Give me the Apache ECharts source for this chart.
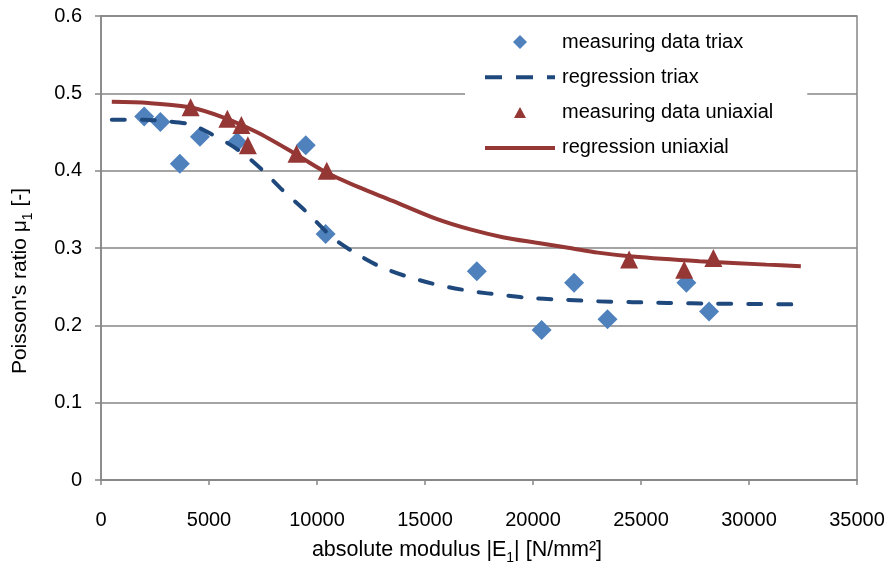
<!DOCTYPE html>
<html>
<head>
<meta charset="utf-8">
<script src="https://cdn.jsdelivr.net/npm/echarts@6/dist/echarts.min.js"></script>
<style>
  html, body { margin: 0; padding: 0; background: #fff; }
  #chart { width: 889px; height: 576px; }
</style>
</head>
<body>
<div id="chart"></div>
<script>
// measured points [E1, mu1]
var triaxData = [
    [2000, 0.470], [2750, 0.463], [3650, 0.409], [4580, 0.444], [6300, 0.437],
    [9480, 0.433], [10400, 0.318], [17400, 0.270], [20400, 0.194], [21900, 0.255],
    [23450, 0.208], [27100, 0.255], [28150, 0.218]
];
var uniaxData = [
    [4150, 0.482], [5850, 0.467], [6500, 0.459], [6800, 0.433], [9050, 0.422],
    [10450, 0.400], [24450, 0.285], [27000, 0.272], [28350, 0.287]
];
// regression curves
var triaxFit = [
    [500, 0.466], [2000, 0.466], [3000, 0.464], [4100, 0.460], [5000, 0.449],
    [6400, 0.426], [7500, 0.400], [8400, 0.375], [9500, 0.347], [10700, 0.314],
    [11800, 0.293], [13000, 0.275], [14300, 0.262], [15800, 0.251], [17200, 0.244],
    [18600, 0.239], [20000, 0.235], [21500, 0.233], [23000, 0.231], [24600, 0.230],
    [26200, 0.229], [28500, 0.228], [30500, 0.2275], [32400, 0.227]
];
var uniaxFit = [
    [500, 0.489], [2200, 0.4875], [4100, 0.482], [5650, 0.469], [7200, 0.450],
    [8740, 0.426], [10280, 0.400], [11900, 0.379], [13500, 0.361],
    [15500, 0.338], [17100, 0.324], [18600, 0.314], [20100, 0.307], [21700, 0.300],
    [23000, 0.294], [24600, 0.289], [27700, 0.283], [30800, 0.2785], [32400, 0.2765]
];
var seriesNames = ['measuring data triax', 'regression triax', 'measuring data uniaxial', 'regression uniaxial'];

var font = "'Liberation Sans', Arial, sans-serif";
var axisGray = '#868686';
var blue = '#4f81bd', darkBlue = '#1f497d', red = '#953735';

// legend icons drawn in a 70x14 box (the lone moves fix the box)
var box = 'M0,0 M70,14 ';
var legendIcons = [
    box + 'M35,0 L42,7 L35,14 L28,7 Z',
    box + 'M0,5 L17,5 L17,9 L0,9 Z M31,5 L48,5 L48,9 L31,9 Z M62,5 L70,5 L70,9 L62,9 Z',
    box + 'M35,1.5 L41,12.5 L29,12.5 Z',
    box + 'M0,5 L70,5 L70,9 L0,9 Z'
];
var legendColors = [blue, darkBlue, red, red];

var myChart = echarts.init(document.getElementById('chart'));
var option = {
    animation: false,
    textStyle: { fontFamily: font },
    grid: {
        left: 101, right: 32, top: 16, bottom: 96,
        show: true, borderColor: axisGray, borderWidth: 1.5
    },
    legend: {
        orient: 'vertical',
        left: 465, top: 24,
        padding: [8, 34, 8, 20],
        backgroundColor: '#fff',
        itemWidth: 70, itemHeight: 14, itemGap: 15.3,
        data: seriesNames.map(function (n, i) {
            return {
                name: n, icon: 'path://' + legendIcons[i],
                itemStyle: { color: legendColors[i], borderWidth: 0, opacity: 1 }
            };
        }),
        textStyle: { fontFamily: font, fontSize: 20, color: '#000', padding: [0, 0, 0, 2] }
    },
    xAxis: {
        type: 'value', min: 0, max: 35000, interval: 5000,
        axisLine: { show: true, lineStyle: { color: axisGray, width: 1.5 } },
        axisTick: { show: true, length: 5, lineStyle: { color: axisGray, width: 1.5 } },
        axisLabel: {
            color: '#000', fontSize: 20, margin: 30, fontFamily: font,
            formatter: function (v) { return String(v); }
        },
        splitLine: { show: false }
    },
    yAxis: {
        type: 'value', min: 0, max: 0.6, interval: 0.1,
        axisLine: { show: true, lineStyle: { color: axisGray, width: 1.5 } },
        axisTick: { show: true, length: 6, lineStyle: { color: axisGray, width: 1.5 } },
        axisLabel: { color: '#000', fontSize: 20, margin: 19, fontFamily: font },
        splitLine: { show: true, lineStyle: { color: axisGray, width: 1.5 } }
    },
    graphic: [
        {
            type: 'text', x: 20, y: 281, rotation: Math.PI / 2,
            style: {
                text: "{a|Poisson's ratio μ}{s|1}{a| [-]}",
                align: 'center', verticalAlign: 'middle', fill: '#000',
                rich: {
                    a: { fontFamily: font, fontSize: 21, lineHeight: 30, fill: '#000' },
                    s: { fontFamily: font, fontSize: 14, lineHeight: 30, verticalAlign: 'bottom', fill: '#000' }
                }
            }
        },
        {
            type: 'text', x: 457, y: 550,
            style: {
                text: '{a|absolute modulus |E}{s|1}{a|| [N/mm²]}',
                align: 'center', verticalAlign: 'middle', fill: '#000',
                rich: {
                    a: { fontFamily: font, fontSize: 21.5, lineHeight: 30, fill: '#000' },
                    s: { fontFamily: font, fontSize: 14, lineHeight: 30, verticalAlign: 'bottom', fill: '#000' }
                }
            }
        }
    ],
    series: [
        {
            name: seriesNames[0], type: 'scatter', symbol: 'diamond', symbolSize: 20,
            itemStyle: { color: blue, opacity: 1 }, data: triaxData, z: 3
        },
        {
            name: seriesNames[1], type: 'line', symbol: 'none', smooth: 0.3,
            lineStyle: { color: darkBlue, width: 4, type: [13, 17], cap: 'round' },
            itemStyle: { color: darkBlue }, data: triaxFit, z: 4
        },
        {
            name: seriesNames[2], type: 'scatter', symbol: 'triangle', symbolSize: [18, 18],
            itemStyle: { color: red, opacity: 1 }, data: uniaxData, z: 5
        },
        {
            name: seriesNames[3], type: 'line', symbol: 'none', smooth: 0.3,
            lineStyle: { color: red, width: 4 },
            itemStyle: { color: red }, data: uniaxFit, z: 6
        }
    ]
};
myChart.setOption(option);
</script>
</body>
</html>
